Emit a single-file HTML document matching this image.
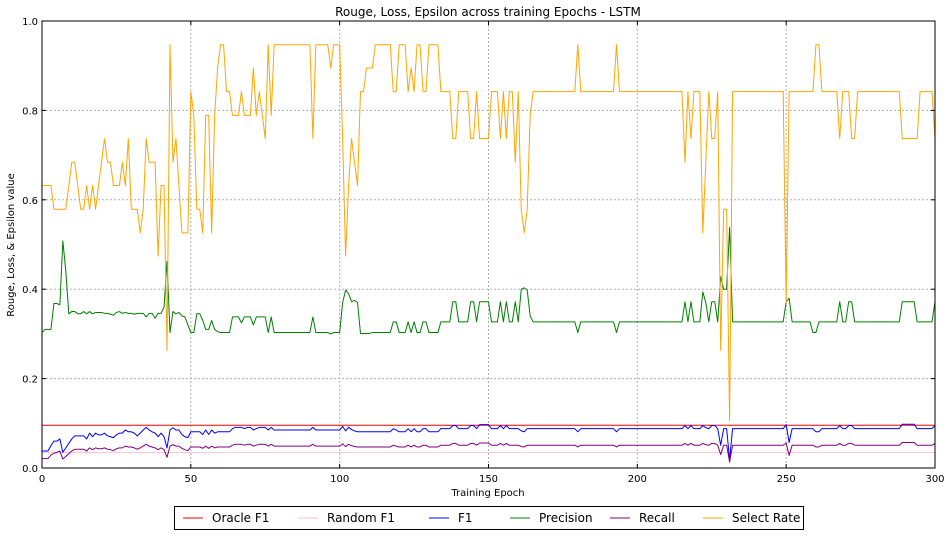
<!DOCTYPE html>
<html><head><meta charset="utf-8"><style>
html,body{margin:0;padding:0;background:#fff;}
svg{display:block;font-family:"DejaVu Sans","Liberation Sans",sans-serif;}
</style></head><body>
<svg id="chart" width="951" height="536" viewBox="0 0 951 536" xmlns="http://www.w3.org/2000/svg">
<rect x="0" y="0" width="951" height="536" fill="#fff"/>
<text x="488" y="16" text-anchor="middle" font-size="12">Rouge, Loss, Epsilon across training Epochs - LSTM</text>
<g id="grid"></g>
<g id="series"></g>
<g id="axes"></g>
<text x="488" y="496" text-anchor="middle" font-size="10">Training Epoch</text>
<text transform="translate(14,245) rotate(-90)" text-anchor="middle" font-size="10">Rouge, Loss, &amp; Epsilon value</text>
<g>
<rect x="174.5" y="506.5" width="629" height="23" fill="#fff" stroke="#000" stroke-width="1"/>
<g><line x1="183" y1="518" x2="203" y2="518" stroke="#ff0000"/><text x="212" y="522" font-size="12">Oracle F1</text></g>
<g><line x1="298" y1="518" x2="318" y2="518" stroke="#ffc0cb"/><text x="327" y="522" font-size="12">Random F1</text></g>
<g><line x1="429" y1="518" x2="449" y2="518" stroke="#0000ff"/><text x="458" y="522" font-size="12">F1</text></g>
<g><line x1="510" y1="518" x2="530" y2="518" stroke="#008000"/><text x="539" y="522" font-size="12">Precision</text></g>
<g><line x1="610" y1="518" x2="630" y2="518" stroke="#800080"/><text x="639" y="522" font-size="12">Recall</text></g>
<g><line x1="703" y1="518" x2="723" y2="518" stroke="#ffa500"/><text x="732" y="522" font-size="12">Select Rate</text></g>
</g>
</svg>
<script>
const xTicks = [0, 50, 100, 150, 200, 250, 300];
const yTicks = [0.0, 0.2, 0.4, 0.6, 0.8, 1.0];
const yTickLabels = ["0.0", "0.2", "0.4", "0.6", "0.8", "1.0"];
const oracleF1 = 0.0955;
const randomF1 = 0.035;
const selectRate = [
.632,.632,.632,.632,.579,.579,.579,.579,.579,.632,
.684,.684,.632,.579,.579,.632,.579,.632,.579,.632,
.684,.737,.684,.684,.632,.632,.632,.684,.632,.737,
.579,.579,.579,.526,.579,.737,.684,.684,.684,.474,
.632,.632,.263,.947,.684,.737,.632,.526,.526,.526,
.842,.789,.579,.579,.526,.789,.789,.526,.789,.895,
.947,.947,.842,.842,.789,.789,.789,.842,.789,.789,
.789,.895,.789,.842,.789,.737,.947,.789,.947,.947,
.947,.947,.947,.947,.947,.947,.947,.947,.947,.947,
.947,.737,.947,.947,.947,.947,.947,.895,.947,.947,
.947,.737,.474,.632,.737,.684,.632,.842,.842,.895,
.895,.895,.947,.947,.947,.947,.947,.947,.842,.842,
.947,.947,.947,.842,.895,.842,.947,.947,.842,.842,
.947,.947,.947,.947,.842,.842,.842,.842,.737,.737,
.842,.842,.842,.842,.737,.737,.842,.737,.737,.737,
.737,.842,.842,.842,.737,.842,.737,.842,.842,.684,
.842,.579,.526,.579,.789,.842,.842,.842,.842,.842,
.842,.842,.842,.842,.842,.842,.842,.842,.842,.842,
.947,.842,.842,.842,.842,.842,.842,.842,.842,.842,
.842,.842,.842,.947,.842,.842,.842,.842,.842,.842,
.842,.842,.842,.842,.842,.842,.842,.842,.842,.842,
.842,.842,.842,.842,.842,.842,.684,.842,.737,.842,
.842,.842,.526,.684,.842,.737,.737,.842,.263,.579,
.579,.105,.842,.842,.842,.842,.842,.842,.842,.842,
.842,.842,.842,.842,.842,.842,.842,.842,.842,.842,
.37,.842,.842,.842,.842,.842,.842,.842,.842,.842,
.947,.947,.842,.842,.842,.842,.842,.842,.737,.842,
.842,.842,.737,.737,.842,.842,.842,.842,.842,.842,
.842,.842,.842,.842,.842,.842,.842,.842,.842,.737,
.737,.737,.737,.737,.737,.842,.842,.842,.842,.842,
.737];
const precision = [
.303,.31,.31,.31,.368,.368,.365,.508,.44,.345,
.35,.35,.345,.345,.35,.345,.35,.345,.348,.348,
.348,.346,.346,.344,.342,.348,.35,.346,.348,.346,
.346,.344,.346,.346,.346,.338,.346,.346,.335,.346,
.346,.36,.462,.303,.35,.345,.348,.34,.338,.32,
.303,.303,.345,.345,.33,.31,.31,.33,.31,.305,
.303,.303,.303,.303,.338,.338,.338,.325,.338,.338,
.338,.32,.338,.338,.338,.338,.303,.338,.303,.303,
.303,.303,.303,.303,.303,.303,.303,.303,.303,.303,
.303,.338,.303,.303,.303,.303,.303,.30,.303,.303,
.303,.37,.398,.39,.372,.375,.37,.301,.301,.301,
.301,.303,.303,.303,.303,.303,.303,.303,.327,.327,
.303,.303,.303,.327,.303,.327,.303,.303,.327,.327,
.303,.303,.303,.303,.327,.327,.327,.327,.372,.372,
.327,.327,.327,.327,.372,.372,.327,.372,.372,.372,
.372,.327,.327,.327,.372,.327,.372,.327,.327,.372,
.327,.40,.403,.398,.34,.327,.327,.327,.327,.327,
.327,.327,.327,.327,.327,.327,.327,.327,.327,.327,
.303,.327,.327,.327,.327,.327,.327,.327,.327,.327,
.327,.327,.327,.303,.327,.327,.327,.327,.327,.327,
.327,.327,.327,.327,.327,.327,.327,.327,.327,.327,
.327,.327,.327,.327,.327,.327,.372,.327,.372,.327,
.327,.327,.394,.37,.327,.372,.372,.327,.428,.40,
.40,.538,.327,.327,.327,.327,.327,.327,.327,.327,
.327,.327,.327,.327,.327,.327,.327,.327,.327,.327,
.372,.38,.327,.327,.327,.327,.327,.327,.327,.303,
.303,.327,.327,.327,.327,.327,.327,.327,.372,.327,
.327,.372,.372,.327,.327,.327,.327,.327,.327,.327,
.327,.327,.327,.327,.327,.327,.327,.327,.327,.372,
.372,.372,.372,.372,.327,.327,.327,.327,.327,.327,
.372];
const f1 = [
.038,.038,.038,.05,.06,.06,.065,.035,.045,.055,
.065,.072,.072,.072,.072,.065,.078,.07,.078,.074,
.074,.078,.072,.07,.068,.074,.078,.078,.085,.081,
.081,.078,.072,.078,.085,.091,.085,.081,.078,.07,
.078,.07,.045,.085,.09,.085,.085,.075,.07,.068,
.081,.081,.081,.081,.075,.085,.075,.085,.078,.081,
.081,.081,.081,.081,.088,.091,.091,.091,.088,.091,
.091,.085,.088,.091,.091,.091,.085,.091,.085,.085,
.085,.085,.085,.085,.085,.085,.085,.085,.085,.085,
.085,.091,.085,.085,.085,.085,.085,.085,.085,.085,
.085,.093,.083,.091,.086,.083,.081,.081,.081,.081,
.081,.081,.081,.081,.081,.081,.081,.081,.088,.085,
.081,.081,.081,.088,.081,.088,.081,.081,.088,.088,
.081,.081,.081,.081,.088,.088,.088,.088,.095,.095,
.088,.088,.088,.088,.095,.095,.088,.097,.097,.097,
.097,.088,.088,.088,.095,.088,.095,.088,.088,.088,
.088,.083,.081,.088,.088,.088,.088,.088,.088,.088,
.088,.088,.088,.088,.088,.088,.088,.088,.088,.088,
.081,.088,.088,.088,.088,.088,.088,.088,.088,.088,
.088,.088,.088,.081,.088,.088,.088,.088,.088,.088,
.088,.088,.088,.088,.088,.088,.088,.088,.088,.088,
.088,.088,.088,.088,.088,.088,.095,.088,.095,.088,
.088,.088,.095,.09,.088,.095,.095,.088,.051,.088,
.088,.018,.088,.088,.088,.088,.088,.088,.088,.088,
.088,.088,.088,.088,.088,.088,.088,.088,.088,.088,
.097,.057,.088,.088,.088,.088,.088,.088,.088,.088,
.081,.081,.088,.088,.088,.088,.088,.088,.095,.088,
.088,.095,.095,.088,.088,.088,.088,.088,.088,.088,
.088,.088,.088,.088,.088,.088,.088,.088,.088,.098,
.098,.098,.098,.098,.088,.088,.088,.088,.088,.088,
.095];
const recall = [
.021,.021,.021,.029,.033,.035,.038,.02,.026,.032,
.038,.042,.042,.042,.042,.038,.045,.041,.045,.043,
.043,.045,.042,.041,.039,.043,.045,.045,.049,.047,
.047,.045,.042,.045,.049,.053,.049,.047,.045,.041,
.045,.041,.024,.049,.052,.049,.049,.044,.041,.039,
.047,.047,.047,.047,.044,.049,.044,.049,.045,.047,
.047,.047,.047,.047,.051,.053,.053,.053,.051,.053,
.053,.049,.051,.053,.053,.053,.049,.053,.049,.049,
.049,.049,.049,.049,.049,.049,.049,.049,.049,.049,
.049,.053,.049,.049,.049,.049,.049,.049,.049,.049,
.049,.054,.048,.053,.05,.048,.047,.047,.047,.047,
.047,.047,.047,.047,.047,.047,.047,.047,.051,.049,
.047,.047,.047,.051,.047,.051,.047,.047,.051,.051,
.047,.047,.047,.047,.051,.051,.051,.051,.055,.055,
.051,.051,.051,.051,.055,.055,.051,.056,.056,.056,
.056,.051,.051,.051,.055,.051,.055,.051,.051,.051,
.051,.048,.047,.051,.051,.051,.051,.051,.051,.051,
.051,.051,.051,.051,.051,.051,.051,.051,.051,.051,
.047,.051,.051,.051,.051,.051,.051,.051,.051,.051,
.051,.051,.051,.047,.051,.051,.051,.051,.051,.051,
.051,.051,.051,.051,.051,.051,.051,.051,.051,.051,
.051,.051,.051,.051,.051,.051,.055,.051,.055,.051,
.051,.051,.055,.052,.051,.055,.055,.051,.03,.051,
.051,.013,.051,.051,.051,.051,.051,.051,.051,.051,
.051,.051,.051,.051,.051,.051,.051,.051,.051,.051,
.056,.028,.051,.051,.051,.051,.051,.051,.051,.051,
.047,.047,.051,.051,.051,.051,.051,.051,.055,.051,
.051,.055,.055,.051,.051,.051,.051,.051,.051,.051,
.051,.051,.051,.051,.051,.051,.051,.051,.051,.057,
.057,.057,.057,.057,.051,.051,.051,.051,.051,.051,
.055];

const PL = 42, PR = 935, PT = 21, PB = 468;
const xMax = 300;
function xs(v) { return PL + (v / xMax) * (PR - PL); }
function ys(v) { return PB - v * (PB - PT); }
const NS = "http://www.w3.org/2000/svg";
function mk(tag, attrs, parent) {
  const e = document.createElementNS(NS, tag);
  for (const k in attrs) e.setAttribute(k, attrs[k]);
  parent.appendChild(e);
  return e;
}
const grid = document.getElementById('grid');
const axes = document.getElementById('axes');
const series = document.getElementById('series');

xTicks.forEach(function (t) {
  const x = xs(t);
  if (t > 0 && t < xMax) {
    const g = mk('line', {x1: x, y1: PT, x2: x, y2: PB, stroke: '#b0b0b0', 'stroke-dasharray': '2,2', 'stroke-width': 1}, grid);
    
    
  }
  const tk1 = mk('line', {x1: x, y1: PB, x2: x, y2: PB - 4, stroke: '#000'}, axes);
  
  
  const tk2 = mk('line', {x1: x, y1: PT, x2: x, y2: PT + 4, stroke: '#000'}, axes);
  
  
  const lb = mk('text', {x: x, y: PB + 14, 'text-anchor': 'middle', 'font-size': 10}, axes);
  lb.textContent = String(t);
  
  
});
yTicks.forEach(function (t, i) {
  const y = ys(t);
  if (t > 0 && t < 1) {
    const g = mk('line', {x1: PL, y1: y, x2: PR, y2: y, stroke: '#b0b0b0', 'stroke-dasharray': '2,2', 'stroke-width': 1}, grid);
    
    
  }
  const tk1 = mk('line', {x1: PL, y1: y, x2: PL + 4, y2: y, stroke: '#000'}, axes);
  
  
  const tk2 = mk('line', {x1: PR, y1: y, x2: PR - 4, y2: y, stroke: '#000'}, axes);
  
  
  const lb = mk('text', {x: PL - 4, y: y + 4, 'text-anchor': 'end', 'font-size': 10}, axes);
  lb.textContent = yTickLabels[i];
  
  
});
const frame = mk('rect', {x: PL, y: PT, width: PR - PL, height: PB - PT, fill: 'none', stroke: '#000', 'stroke-width': 1}, axes);



function drawLine(vals, color, name) {
  const pts = vals.map(function (v, i) { return xs(i).toFixed(2) + ',' + ys(v).toFixed(2); }).join(' ');
  const p = mk('polyline', {points: pts, fill: 'none', stroke: color, 'stroke-width': 1, 'stroke-linejoin': 'round'}, series);
  
  
}
const oracleLine = mk('line', {x1: xs(0), y1: ys(oracleF1), x2: xs(xMax), y2: ys(oracleF1), stroke: '#ff0000', 'stroke-width': 1}, series);


const randomLine = mk('line', {x1: xs(0), y1: ys(randomF1), x2: xs(xMax), y2: ys(randomF1), stroke: '#ffc0cb', 'stroke-width': 1}, series);


drawLine(f1, '#0000ff', 'f1-line');
drawLine(precision, '#008000', 'precision-line');
drawLine(recall, '#800080', 'recall-line');
drawLine(selectRate, '#ffa500', 'select-rate-line');
</script>
</body></html>
